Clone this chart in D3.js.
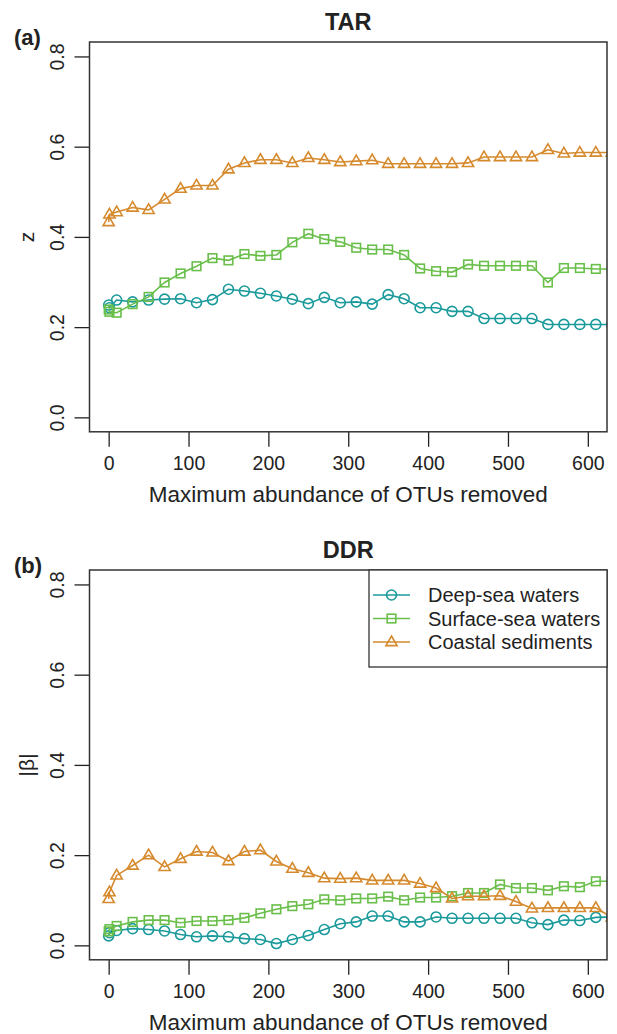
<!DOCTYPE html>
<html>
<head>
<meta charset="utf-8">
<script src="https://cdn.jsdelivr.net/npm/d3@7"></script>
<style>
  body { margin: 0; background: #fff; }
  svg { display: block; font-family: "Liberation Sans", Arial, sans-serif; }
</style>
</head>
<body>
<svg id="chart" width="617" height="1034"></svg>
<script>
// x = maximum abundance of OTUs removed
const xValues = [0, 1, 10, 30, 50, 70, 90, 110, 130, 150, 170, 190, 210, 230, 250, 270, 290,
  310, 330, 350, 370, 390, 410, 430, 450, 470, 490, 510, 530, 550, 570, 590, 610, 630];

// panel (a) TAR, z
const tarDeep = [0.249, 0.243, 0.260, 0.256, 0.260, 0.262, 0.263, 0.254, 0.261, 0.284, 0.280, 0.275, 0.269, 0.262, 0.252, 0.266, 0.254,
  0.256, 0.251, 0.272, 0.263, 0.243, 0.243, 0.235, 0.235, 0.219, 0.219, 0.219, 0.219, 0.206, 0.206, 0.206, 0.206, 0.206];
const tarSurface = [0.239, 0.234, 0.232, 0.251, 0.267, 0.299, 0.319, 0.335, 0.353, 0.348, 0.362, 0.358, 0.360, 0.388, 0.407, 0.395, 0.389,
  0.376, 0.372, 0.372, 0.360, 0.330, 0.324, 0.322, 0.339, 0.336, 0.336, 0.336, 0.336, 0.299, 0.331, 0.331, 0.329, 0.329];
const tarCoastal = [0.433, 0.450, 0.455, 0.465, 0.460, 0.483, 0.507, 0.514, 0.514, 0.550, 0.564, 0.571, 0.571, 0.564, 0.575, 0.571, 0.566,
  0.568, 0.570, 0.562, 0.562, 0.562, 0.562, 0.562, 0.564, 0.577, 0.577, 0.577, 0.577, 0.593, 0.585, 0.587, 0.587, 0.587];

// panel (b) DDR, |beta|
const ddrDeep = [0.021, 0.028, 0.033, 0.037, 0.035, 0.032, 0.024, 0.019, 0.021, 0.019, 0.015, 0.013, 0.004, 0.013, 0.022, 0.035, 0.048,
  0.052, 0.065, 0.065, 0.052, 0.052, 0.063, 0.060, 0.060, 0.060, 0.060, 0.060, 0.050, 0.046, 0.056, 0.055, 0.062, 0.063];
const ddrSurface = [0.031, 0.036, 0.043, 0.052, 0.056, 0.056, 0.050, 0.054, 0.054, 0.056, 0.061, 0.071, 0.080, 0.087, 0.091, 0.102, 0.100,
  0.104, 0.104, 0.108, 0.100, 0.106, 0.106, 0.109, 0.116, 0.116, 0.135, 0.127, 0.127, 0.122, 0.131, 0.129, 0.142, 0.142];
const ddrCoastal = [0.103, 0.118, 0.155, 0.177, 0.200, 0.174, 0.192, 0.208, 0.206, 0.187, 0.208, 0.211, 0.186, 0.170, 0.161, 0.149, 0.148,
  0.149, 0.144, 0.144, 0.144, 0.137, 0.127, 0.104, 0.109, 0.109, 0.110, 0.097, 0.082, 0.083, 0.083, 0.083, 0.083, 0.062];

const seriesNames = ['Deep-sea waters', 'Surface-sea waters', 'Coastal sediments'];
const seriesColors = ['#1b9a9b', '#6abf4b', '#d68a2e'];
const seriesShapes = ['circle', 'square', 'triangle'];
const xTicks = [0, 100, 200, 300, 400, 500, 600];
const yTicks = [0, 0.2, 0.4, 0.6, 0.8];

const svg = d3.select('#chart');
const fontSize = 19.5;
const labSize = 22.5;
const ink = '#222';

const xScale = d3.scaleLinear().domain([-24, 624]).range([89.5, 607]);

function marker(sel, shape, color) {
  if (shape === 'circle') {
    sel.append('circle').attr('r', 5);
  } else if (shape === 'square') {
    sel.append('rect').attr('x', -4.3).attr('y', -4.3).attr('width', 8.6).attr('height', 8.6);
  } else {
    sel.append('path').attr('d', 'M0,-6L5.6,3.6L-5.6,3.6Z');
  }
  sel.selectAll('*').attr('fill', 'none').attr('stroke', color).attr('stroke-width', 1.6);
}

function drawPanel(opt) {
  const top = opt.top, bottom = opt.top + 389.8;
  const yScale = d3.scaleLinear().domain([-0.032, 0.832]).range([bottom, top]);
  const left = xScale.range()[0], right = xScale.range()[1];
  const g = svg.append('g');

  g.append('clipPath').attr('id', opt.id + '-clip')
    .append('rect').attr('x', left).attr('y', top)
    .attr('width', right - left).attr('height', bottom - top);

  // series
  const plot = g.append('g').attr('clip-path', `url(#${opt.id}-clip)`);
  const line = d3.line().x((d, i) => xScale(xValues[i])).y(d => yScale(d));
  opt.series.forEach((vals, k) => {
    plot.append('path').datum(vals)
      .attr('d', line)
      .attr('fill', 'none')
      .attr('stroke', seriesColors[k])
      .attr('stroke-width', 1.6);
    vals.forEach((v, i) => {
      const m = plot.append('g').attr('transform', `translate(${xScale(xValues[i])},${yScale(v)})`);
      marker(m, seriesShapes[k], seriesColors[k]);
    });
  });

  // x axis
  const xAxis = g.append('g').attr('transform', `translate(0,${bottom})`)
    .call(d3.axisBottom(xScale).tickValues(xTicks).tickSize(15).tickSizeOuter(0).tickFormat(d3.format('d')));
  xAxis.select('.domain').remove();
  xAxis.selectAll('line').attr('stroke', ink).attr('stroke-width', 1.3);
  xAxis.selectAll('text').attr('y', 38).attr('dy', null)
    .attr('font-size', fontSize).attr('fill', ink);

  // y axis with rotated labels
  const yAxis = g.append('g').attr('transform', `translate(${left},0)`)
    .call(d3.axisLeft(yScale).tickValues(yTicks).tickSize(15).tickSizeOuter(0).tickFormat(d3.format('.1f')));
  yAxis.select('.domain').remove();
  yAxis.selectAll('line').attr('stroke', ink).attr('stroke-width', 1.3);
  yAxis.selectAll('text')
    .attr('x', null).attr('dy', null)
    .attr('transform', 'translate(-25.5,0) rotate(-90)')
    .attr('text-anchor', 'middle')
    .attr('font-size', fontSize).attr('fill', ink);

  // box
  g.append('rect').attr('x', left).attr('y', top)
    .attr('width', right - left).attr('height', bottom - top)
    .attr('fill', 'none').attr('stroke', '#333').attr('stroke-width', 1.5);

  // titles
  g.append('text').attr('x', (left + right) / 2).attr('y', top - 12)
    .attr('text-anchor', 'middle').attr('font-weight', 'bold')
    .attr('font-size', 23.5).attr('fill', ink).text(opt.title);
  g.append('text').attr('x', 14).attr('y', top + 3)
    .attr('font-weight', 'bold').attr('font-size', 22).attr('fill', ink).text(opt.tag);
  g.append('text').attr('x', (left + right) / 2).attr('y', bottom + 70)
    .attr('text-anchor', 'middle').attr('font-size', labSize).attr('fill', ink)
    .text('Maximum abundance of OTUs removed');
  g.append('text')
    .attr('transform', `translate(34,${(top + bottom) / 2}) rotate(-90)`)
    .attr('text-anchor', 'middle').attr('font-size', 21).attr('fill', ink)
    .text(opt.ylab);

  return { g, top, bottom, right };
}

drawPanel({ id: 'tar', top: 42, title: 'TAR', tag: '(a)', ylab: 'z',
  series: [tarDeep, tarSurface, tarCoastal] });
const ddr = drawPanel({ id: 'ddr', top: 570, title: 'DDR', tag: '(b)', ylab: '|\u03B2|',
  series: [ddrDeep, ddrSurface, ddrCoastal] });

// legend
const legend = ddr.g.append('g');
legend.append('rect').attr('x', 369).attr('y', ddr.top)
  .attr('width', ddr.right - 369).attr('height', 97)
  .attr('fill', '#fff').attr('stroke', '#333').attr('stroke-width', 1.3);
seriesNames.forEach((name, k) => {
  const cy = ddr.top + 25 + k * 23.5;
  legend.append('line').attr('x1', 373).attr('x2', 410).attr('y1', cy).attr('y2', cy)
    .attr('stroke', seriesColors[k]).attr('stroke-width', 1.6);
  marker(legend.append('g').attr('transform', `translate(391.5,${cy})`), seriesShapes[k], seriesColors[k]);
  legend.append('text').attr('x', 428).attr('y', cy + 7)
    .attr('font-size', 20).attr('fill', ink).text(name);
});
</script>
</body>
</html>
